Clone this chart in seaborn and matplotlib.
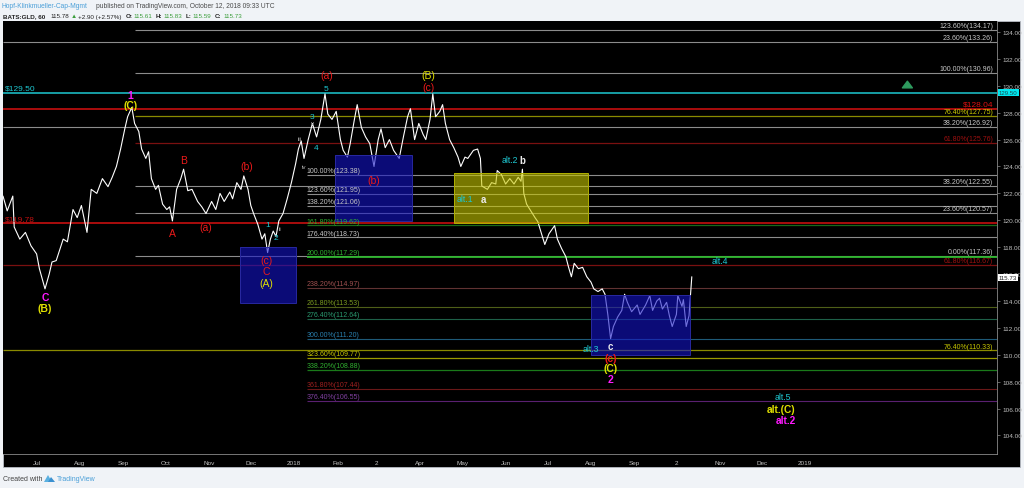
import pandas as pd
import numpy as np
import matplotlib
matplotlib.use('Agg')
import matplotlib.pyplot as plt
import matplotlib.dates as mdates
from matplotlib.patches import Rectangle, Polygon
from matplotlib.transforms import blended_transform_factory
import seaborn as sns

# GLD hourly closes (coarse trace)
dates = [
    '2017-06-07', '2017-06-10', '2017-06-14', '2017-06-15', '2017-06-19', '2017-06-23', '2017-06-27',
    '2017-07-01', '2017-07-03', '2017-07-07', '2017-07-10', '2017-07-12', '2017-07-15', '2017-07-20',
    '2017-07-23', '2017-07-27', '2017-07-30', '2017-08-02', '2017-08-06', '2017-08-09', '2017-08-13',
    '2017-08-17', '2017-08-21', '2017-08-24', '2017-08-27', '2017-08-30', '2017-09-02', '2017-09-04',
    '2017-09-07', '2017-09-09', '2017-09-12', '2017-09-14', '2017-09-17', '2017-09-19', '2017-09-21',
    '2017-09-24', '2017-09-26', '2017-09-29', '2017-10-02', '2017-10-04', '2017-10-06', '2017-10-09',
    '2017-10-12', '2017-10-14', '2017-10-17', '2017-10-20', '2017-10-24', '2017-10-27', '2017-10-30',
    '2017-11-03', '2017-11-06', '2017-11-09', '2017-11-12', '2017-11-16', '2017-11-18', '2017-11-21',
    '2017-11-24', '2017-11-26', '2017-11-29', '2017-12-01', '2017-12-03', '2017-12-06', '2017-12-09',
    '2017-12-11', '2017-12-13', '2017-12-15', '2017-12-17', '2017-12-19', '2017-12-21', '2017-12-24',
    '2017-12-27', '2017-12-30', '2018-01-02', '2018-01-04', '2018-01-06', '2018-01-08', '2018-01-11',
    '2018-01-14', '2018-01-17', '2018-01-20', '2018-01-23', '2018-01-25', '2018-01-28', '2018-01-31',
    '2018-02-03', '2018-02-05', '2018-02-08', '2018-02-10', '2018-02-13', '2018-02-15', '2018-02-18',
    '2018-02-21', '2018-02-24', '2018-02-27', '2018-03-02', '2018-03-04', '2018-03-07', '2018-03-10',
    '2018-03-13', '2018-03-17', '2018-03-20', '2018-03-23', '2018-03-25', '2018-03-28', '2018-03-31',
    '2018-04-03', '2018-04-05', '2018-04-08', '2018-04-10', '2018-04-12', '2018-04-15', '2018-04-17',
    '2018-04-19', '2018-04-22', '2018-04-25', '2018-04-28', '2018-04-30', '2018-05-03', '2018-05-05',
    '2018-05-09', '2018-05-12', '2018-05-14', '2018-05-15', '2018-05-19', '2018-05-22', '2018-05-25',
    '2018-05-26', '2018-05-29', '2018-06-01', '2018-06-04', '2018-06-07', '2018-06-10', '2018-06-12',
    '2018-06-13', '2018-06-14', '2018-06-16', '2018-06-19', '2018-06-22', '2018-06-24', '2018-06-29',
    '2018-07-02', '2018-07-06', '2018-07-08', '2018-07-11', '2018-07-14', '2018-07-16', '2018-07-18',
    '2018-07-20', '2018-07-23', '2018-07-26', '2018-07-29', '2018-08-01', '2018-08-03', '2018-08-06',
    '2018-08-09', '2018-08-11', '2018-08-13', '2018-08-15', '2018-08-17', '2018-08-20', '2018-08-23',
    '2018-08-25', '2018-08-27', '2018-08-30', '2018-09-03', '2018-09-05', '2018-09-09', '2018-09-12',
    '2018-09-14', '2018-09-17', '2018-09-19', '2018-09-21', '2018-09-24', '2018-09-26', '2018-09-28',
    '2018-10-01', '2018-10-02', '2018-10-05', '2018-10-06', '2018-10-08', '2018-10-10', '2018-10-11',
    '2018-10-12',
]
prices = [
    121.8, 120.7, 121.8, 119.5, 118.6, 119.1, 118.1,
    117.5, 116.4, 114.9, 116.0, 116.9, 117.0, 118.6,
    118.4, 120.8, 120.2, 121.1, 119.1, 122.3, 122.0,
    123.1, 122.5, 123.2, 124.0, 125.3, 126.8, 127.7,
    128.4, 127.2, 126.6, 125.3, 124.6, 125.1, 123.1,
    122.3, 122.6, 121.2, 120.8, 121.0, 119.95, 122.3,
    123.1, 123.8, 122.2, 122.3, 121.4, 121.0, 120.5,
    121.4, 120.8, 122.0, 121.4, 122.1, 121.6, 122.8,
    122.3, 123.3, 122.3, 121.1, 120.5, 119.7, 118.6,
    119.0, 117.6, 118.6, 119.2, 118.8, 119.95, 120.5,
    121.6, 122.8, 124.2, 125.3, 125.9, 124.6, 126.0,
    127.2, 126.2, 127.5, 129.4, 127.9, 127.5, 128.1,
    126.0, 125.2, 124.7, 125.7, 127.5, 128.6, 126.9,
    126.2, 125.7, 124.0, 126.0, 126.8, 125.4, 126.0,
    125.2, 124.6, 126.2, 127.7, 128.3, 126.0, 127.2,
    126.4, 126.0, 127.5, 129.4, 127.7, 128.1, 128.6,
    127.2, 126.0, 125.4, 124.7, 124.0, 124.7, 124.6,
    125.2, 125.3, 124.6, 122.55, 122.3, 122.8, 122.7,
    123.7, 123.4, 122.7, 123.1, 122.7, 123.2, 122.9,
    123.8, 122.0, 121.2, 120.7, 120.2, 119.9, 118.2,
    119.0, 119.6, 118.6, 117.9, 117.3, 116.5, 115.8,
    116.8, 116.4, 116.5, 115.8, 115.4, 114.9, 114.7,
    114.9, 114.5, 113.0, 111.2, 112.1, 112.8, 113.3,
    114.5, 113.9, 113.2, 113.7, 113.0, 113.7, 114.4,
    113.3, 114.0, 114.2, 113.4, 113.9, 112.9, 112.1,
    113.0, 114.4, 113.6, 114.1, 112.1, 112.9, 114.4,
    115.8,
]

# horizontal fib / price levels (where the lines sit on the chart)
levels = [134.17, 133.26, 130.96, 129.50, 128.30, 127.75, 126.92, 125.76, 123.38, 122.55,
          121.95, 121.06, 120.57, 119.78, 119.62, 118.73, 117.36, 117.29, 116.67, 114.97,
          113.53, 112.64, 111.20, 110.33, 109.77, 108.88, 107.44, 106.55]
level_labels = ['123.60%(134.17)', '23.60%(133.26)', '100.00%(130.96)', '$129.50', '$128.04',
                '76.40%(127.75)', '38.20%(126.92)', '61.80%(125.76)', '100.00%(123.38)',
                '38.20%(122.55)', '123.60%(121.95)', '138.20%(121.06)', '23.60%(120.57)', '$119.78',
                '161.80%(119.62)', '176.40%(118.73)', '0.00%(117.36)', '200.00%(117.29)',
                '61.80%(116.67)', '238.20%(114.97)', '261.80%(113.53)', '276.40%(112.64)',
                '300.00%(111.20)', '76.40%(110.33)', '323.60%(109.77)', '338.20%(108.88)',
                '361.80%(107.44)', '376.40%(106.55)']
level_starts = [None if s == '' else s for s in [
    '2017-09-09', '', '2017-09-09', '', '', '2017-09-09', '', '2017-09-09', '2018-01-10',
    '2017-09-09', '2018-01-10', '2018-01-10', '2017-09-09', '', '2018-01-10', '2018-01-10',
    '2017-09-09', '2018-01-10', '', '2018-01-10', '2018-01-10', '2018-01-10', '2018-01-10',
    '', '2018-01-10', '2018-01-10', '2018-01-10', '2018-01-10']]
level_label_side = ['right', 'right', 'right', 'left', 'right', 'right', 'right', 'right', 'start',
                    'right', 'start', 'start', 'right', 'left', 'start', 'start', 'right', 'start',
                    'right', 'start', 'start', 'start', 'start', 'right', 'start', 'start', 'start',
                    'start']
level_colors = ['#8c8c8c', '#8c8c8c', '#8c8c8c', '#1ec8d2', '#d81010', '#8a8a00', '#8c8c8c',
                '#7a1010', '#8c8c8c', '#8c8c8c', '#8c8c8c', '#8c8c8c', '#8c8c8c', '#d81010',
                '#1a6a1a', '#8c8c8c', '#8c8c8c', '#2eb82e', '#7a1010', '#603232', '#4e5e18',
                '#1e6048', '#1e5a78', '#8a8a00', '#9a9a00', '#1a7a1a', '#6a1818', '#5a2070']
level_text_colors = ['#c8c8c8', '#c8c8c8', '#c8c8c8', '#1ec8d2', '#e01010', '#d0d000', '#c8c8c8',
                     '#a01010', '#c8c8c8', '#c8c8c8', '#c8c8c8', '#c8c8c8', '#c8c8c8', '#c01010',
                     '#30b030', '#c8c8c8', '#c8c8c8', '#30b030', '#a01010', '#a05050', '#7a9a20',
                     '#2a9a70', '#2a80b0', '#c8c800', '#c8c800', '#30b030', '#a02020', '#8040a0']
level_widths = [0.8, 0.8, 0.8, 1.1, 1.1, 0.9, 0.8, 0.9, 0.8, 0.8, 0.8, 0.8, 0.8, 1.1,
                0.9, 0.8, 0.8, 1.3, 0.9, 0.8, 0.8, 0.8, 0.8, 0.9, 0.9, 0.9, 0.8, 0.8]

# zone boxes
box_starts = ['2017-11-23', '2018-01-30', '2018-04-25', '2018-08-01']
box_ends = ['2018-01-02', '2018-03-26', '2018-07-30', '2018-10-11']
box_lows = [113.85, 119.95, 119.80, 109.95]
box_highs = [118.00, 124.85, 123.50, 114.45]
box_colors = ['#1414c8', '#1414c8', '#c8c800', '#1414c8']
box_edges = ['#2828a0', '#2828a0', '#b0b000', '#2828a0']

# wave counts
RED, YEL, MAG, CYA, WHT, GRY = '#ea1a1a', '#e0e000', '#ff1aff', '#1ec8d2', '#ececec', '#b0b0b0'
wave_text = ['C', '(B)', '1', '(C)', 'A', 'B', '(a)', '(b)', '(c)', 'C', '(A)', '1', '2', 'ii',
             'iii', 'iv', '3', 'v', '4', '5', '(a)', '(b)', '(B)', '(c)', 'alt.2', 'b', 'alt.1', 'a',
             'alt.4', 'alt.3', 'c', '(c)', '(C)', '2', 'alt.5', 'alt.(C)', 'alt.2']
wave_dates = ['2017-07-07', '2017-07-07', '2017-09-06', '2017-09-06', '2017-10-06', '2017-10-14',
              '2017-10-30', '2017-11-28', '2017-12-12', '2017-12-12', '2017-12-12', '2017-12-13',
              '2017-12-19', '2017-12-22', '2018-01-05', '2018-01-08', '2018-01-14', '2018-01-14',
              '2018-01-17', '2018-01-24', '2018-01-24', '2018-02-27', '2018-04-07', '2018-04-07',
              '2018-06-04', '2018-06-13', '2018-05-03', '2018-05-16', '2018-11-01', '2018-08-01',
              '2018-08-15', '2018-08-15', '2018-08-15', '2018-08-15', '2018-12-16', '2018-12-15',
              '2018-12-18']
wave_prices = [114.3, 113.5, 129.3, 128.6, 119.06, 124.5, 119.5, 124.0, 117.05, 116.2, 115.3,
               119.7, 118.75, 119.4, 126.1, 124.0, 127.75, 127.3, 125.4, 129.8, 130.8, 123.0,
               130.8, 129.9, 124.5, 124.5, 121.6, 121.6, 117.0, 110.5, 110.65, 109.75, 109.0,
               108.2, 106.9, 106.0, 105.15]
wave_colors = [MAG, YEL, MAG, YEL, RED, RED, RED, RED, RED, RED, YEL, CYA, CYA, GRY, GRY, GRY,
               CYA, GRY, CYA, CYA, RED, RED, YEL, RED, CYA, WHT, CYA, WHT, CYA, CYA, WHT, RED,
               YEL, MAG, CYA, YEL, MAG]
wave_sizes = [7.5, 7.5, 7.5, 7.5, 7.5, 7.5, 7.5, 7.5, 7.5, 7.5, 7.5, 6, 6, 4.5, 4.5, 4.5, 6,
              4.5, 6, 6, 7.5, 7.5, 7.5, 7.5, 6.3, 7, 6.3, 7, 6.3, 6.3, 7, 7.5, 7.5, 7.5, 6.3,
              7.3, 7.3]
wave_bold = [True, True, True, True, False, False, False, False, False, False, False, False,
             False, False, False, False, False, False, False, False, False, False, False, False,
             False, True, False, True, False, False, True, True, True, True, False, True, True]

month_ticks = pd.date_range('2017-07-01', '2019-01-01', freq='MS')
month_labels = ['Jul', 'Aug', 'Sep', 'Oct', 'Nov', 'Dec', '2018', 'Feb', '2', 'Apr', 'May', 'Jun',
                'Jul', 'Aug', 'Sep', '2', 'Nov', 'Dec', '2019']

arrow_date, arrow_low, arrow_high = '2019-03-15', 129.75, 130.55
last_price = 115.73
alert_price = 129.50

sns.set_style('dark')
plt.rcParams['font.family'] = ['Liberation Sans', 'DejaVu Sans']

W, H = 1024, 489
fig = plt.figure(figsize=(W / 100, H / 100), dpi=100, facecolor='#f0f3f7')


def fx(px):
    return px / W


def fy(py):
    return 1 - py / H


# black chart panel incl. axis strips (drawn beneath the axes)
fig.patches.append(Rectangle((fx(3), fy(468)), fx(1020) - fx(3), fy(22) - fy(468),
                             transform=fig.transFigure, facecolor='black',
                             edgecolor='#b8bcc4', lw=0.6, zorder=-10))
ax = fig.add_axes([fx(3), fy(455), fx(997) - fx(3), fy(22) - fy(455)])
ax.set_zorder(1)
ax.set_facecolor('black')
ax.grid(False)

df = pd.DataFrame({'date': pd.to_datetime(dates), 'price': prices})
sns.lineplot(data=df, x='date', y='price', ax=ax, color='white', lw=0.8, zorder=5)

ax.set_xlim(pd.Timestamp('2017-06-07'), pd.Timestamp('2019-05-18'))
ax.set_ylim(102.62, 134.82)
x_right = ax.get_xlim()[1]
x_left = ax.get_xlim()[0]
blend = blended_transform_factory(ax.transAxes, ax.transData)

for lv, lab, st, side, col, tcol, lw in zip(levels, level_labels, level_starts, level_label_side,
                                            level_colors, level_text_colors, level_widths):
    x0 = x_left if st is None else mdates.date2num(pd.Timestamp(st))
    ax.hlines(lv, x0, x_right, color=col, lw=lw, zorder=2)
    fs = 6 if lab.startswith('$') else 5
    if side == 'right':
        ax.text(0.996, lv + 0.06, lab, transform=blend, ha='right', va='bottom',
                color=tcol, fontsize=fs, zorder=8)
    elif side == 'left':
        ax.text(0.002, lv + 0.06, lab, transform=blend, ha='left', va='bottom',
                color=tcol, fontsize=fs, zorder=8)
    else:
        ax.text(x0, lv + 0.06, lab, ha='left', va='bottom', color=tcol, fontsize=fs, zorder=8)

for s, e, lo, hi, fc, ec in zip(box_starts, box_ends, box_lows, box_highs, box_colors, box_edges):
    x0 = mdates.date2num(pd.Timestamp(s))
    x1 = mdates.date2num(pd.Timestamp(e))
    ax.add_patch(Rectangle((x0, lo), x1 - x0, hi - lo, facecolor=fc, alpha=0.6,
                           edgecolor='none', zorder=6))
    ax.add_patch(Rectangle((x0, lo), x1 - x0, hi - lo, facecolor='none',
                           edgecolor=ec, lw=0.7, zorder=6))

for t, d, p, c, fs, b in zip(wave_text, wave_dates, wave_prices, wave_colors, wave_sizes, wave_bold):
    ax.text(mdates.date2num(pd.Timestamp(d)), p, t, color=c, fontsize=fs,
            fontweight='bold' if b else 'normal', ha='center', va='center', zorder=9)

# green alert arrow
ax_x = mdates.date2num(pd.Timestamp(arrow_date))
ax.annotate('', xy=(ax_x, arrow_high), xytext=(ax_x, arrow_low),
            arrowprops=dict(arrowstyle='simple,head_width=0.9,head_length=0.6,tail_width=0.4',
                            color='#2e9a5e', mutation_scale=8), zorder=9)

# axes styling
for sp in ['top', 'left']:
    ax.spines[sp].set_visible(False)
for sp in ['right', 'bottom']:
    ax.spines[sp].set_color('#8a8a8a')
    ax.spines[sp].set_linewidth(0.6)
ax.yaxis.tick_right()
ax.set_yticks(np.arange(104, 135, 2))
ax.set_yticklabels([f'{v:.2f}' for v in np.arange(104, 135, 2)])
ax.set_xticks(month_ticks)
ax.set_xticklabels(month_labels)
ax.tick_params(axis='both', colors='#8a8a8a', labelcolor='#c0c0c0', labelsize=4.6,
               length=2, width=0.5, pad=2)
ax.set_xlabel('')
ax.set_ylabel('')

# price tags on the scale
ax.text(1.002, alert_price, f'{alert_price:.2f}', transform=blend, ha='left', va='center',
        fontsize=4.4, color='#1a4a50', clip_on=False, zorder=10,
        bbox=dict(facecolor='#00e8f0', edgecolor='none', pad=0.8))
ax.text(1.002, last_price, f'{last_price:.2f}', transform=blend, ha='left', va='center',
        fontsize=4.4, color='#222222', clip_on=False, zorder=10,
        bbox=dict(facecolor='white', edgecolor='none', pad=0.8))

# header
GREEN = '#3c9e3c'
fig.text(fx(2), fy(7), 'Hopf-Klinkmueller-Cap-Mgmt', color='#4a9fd8', fontsize=4.8, va='center')
fig.text(fx(96), fy(7), 'published on TradingView.com, October 12, 2018 09:33 UTC',
         color='#4a4a4a', fontsize=4.8, va='center')
header2 = [('BATS:GLD, 60', 3, '#222222', 'bold'), ('115.78', 50, '#222222', 'normal'),
           ('\u25b2', 71, GREEN, 'normal'), ('+2.90 (+2.57%)', 78, '#222222', 'normal'),
           ('O:', 126, '#222222', 'bold'), ('115.61', 133, GREEN, 'normal'),
           ('H:', 156, '#222222', 'bold'), ('115.83', 163, GREEN, 'normal'),
           ('L:', 186, '#222222', 'bold'), ('115.59', 192, GREEN, 'normal'),
           ('C:', 215, '#222222', 'bold'), ('115.73', 223, GREEN, 'normal')]
for txt, px, col, wt in header2:
    fig.text(fx(px), fy(17), txt, color=col, fontsize=4.5, fontweight=wt, va='center')

# footer
fig.text(fx(3), fy(480), 'Created with', color='#444444', fontsize=5, va='center')
fig.patches.append(Polygon([(fx(44), fy(483)), (fx(48), fy(476)), (fx(52), fy(483))],
                           closed=True, transform=fig.transFigure, facecolor='#5ab0e0',
                           edgecolor='none'))
fig.patches.append(Polygon([(fx(48), fy(483)), (fx(51), fy(478)), (fx(55), fy(483))],
                           closed=True, transform=fig.transFigure, facecolor='#3a90d0',
                           edgecolor='none'))
fig.text(fx(57), fy(480), 'TradingView', color='#4a9fd8', fontsize=5, va='center')

fig.savefig('out.png', dpi=100, facecolor=fig.get_facecolor())
